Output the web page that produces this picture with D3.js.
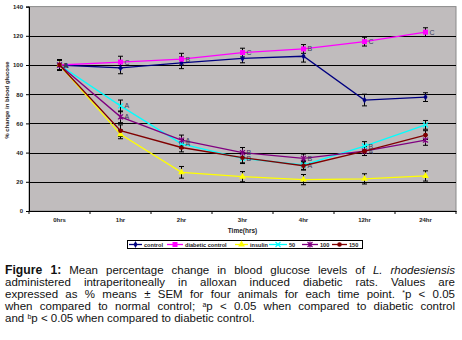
<!DOCTYPE html>
<html>
<head>
<meta charset="utf-8">
<script src="https://cdn.jsdelivr.net/npm/d3@7"></script>
<style>
  body { margin: 0; background: white; }
  #wrap { position: relative; width: 462px; height: 340px; }
  #caption {
    position: absolute; left: 5px; top: 264px; width: 450px;
    font-family: "Liberation Sans", Arial, sans-serif; font-size: 11.5px;
    line-height: 12px; color: #111;
  }
  #caption div { text-align: justify; text-align-last: justify; white-space: nowrap; }
  #caption div.last { text-align-last: left; }
  #caption b { font-size: 12.2px; }
  #caption sup { font-size: 7px; vertical-align: 3px; line-height: 0; }
</style>
</head>
<body>
<div id="wrap">
  <div id="chart"></div>
  <div id="caption">
    <div><b>Figure 1:</b> Mean percentage change in blood glucose levels of <i>L. rhodesiensis</i></div>
    <div>administered intraperitoneally in alloxan induced diabetic rats. Values are</div>
    <div>expressed as % means ± SEM for four animals for each time point. <sup>*</sup>p &lt; 0.05</div>
    <div>when compared to normal control; <sup>a</sup>p &lt; 0.05 when compared to diabetic control</div>
    <div class="last">and <sup>b</sup>p &lt; 0.05 when compared to diabetic control.</div>
  </div>
</div>
<script>
//time points
const times = ["0hrs", "1hr", "2hr", "3hr", "4hr", "12hr", "24hr"];

//series names
const seriesNames = ["control", "diabetic control", "insulin", "50", "100", "150"];

//% change in blood glucose
const control = [100, 98, 101.5, 104.5, 106, 76, 78];
const diabeticControl = [100, 102, 104, 108.5, 111, 116, 122.5];
const insulin = [100, 52.5, 26.5, 23.5, 21.5, 22, 24];
const dose50 = [100, 72, 46, 36, 31.5, 44.5, 59];
const dose100 = [100, 64.5, 48.5, 40, 36, 41, 48.5];
const dose150 = [100, 55, 43.5, 36.5, 31, 41, 52];

//SEM for each point
const controlSem = [3.5, 4, 4, 3, 4, 4, 3];
const diabeticSem = [3.5, 4, 4, 3, 3, 3, 3];
const insulinSem = [3.5, 3, 4, 3.5, 3.5, 3.5, 3.5];
const dose50Sem = [3.5, 4, 3, 3.5, 3, 3, 3];
const dose100Sem = [3.5, 4, 3.5, 3.5, 3, 3, 3.5];
const dose150Sem = [3.5, 4, 3, 3.5, 3, 3, 3];

//letter annotations next to points ("" = none)
const controlLabels = ["", "", "", "", "A", "", ""];
const diabeticLabels = ["A", "C", "B", "C", "B", "C", "C"];
const insulinLabels = ["", "A", "", "", "", "", ""];
const dose50Labels = ["", "B", "A", "A", "B", "A", "B"];
const dose100Labels = ["", "A", "A", "A", "B", "B", "A"];
const dose150Labels = ["", "", "", "", "", "", "A"];

const yTicks = [0, 20, 40, 60, 80, 100, 120, 140];

const colors = ["#000080", "#ff00ff", "#ffff00", "#00ffff", "#800080", "#800000"];
const markers = ["diamond", "square", "triangle", "cross", "star", "circle"];

const series = seriesNames.map(function(name, i) {
    return {
        name: name,
        values: [control, diabeticControl, insulin, dose50, dose100, dose150][i],
        sem: [controlSem, diabeticSem, insulinSem, dose50Sem, dose100Sem, dose150Sem][i],
        labels: [controlLabels, diabeticLabels, insulinLabels, dose50Labels, dose100Labels, dose150Labels][i],
        color: colors[i],
        marker: markers[i]
    };
});

const width = 462;
const height = 262;
const margin = { top: 6.6, right: 6, bottom: 51, left: 29 };
const font = "'Liberation Sans', Arial, sans-serif";

const svg = d3.select("#chart")
    .append("svg")
    .attr("width", width)
    .attr("height", height)
    .style("display", "block");

const xScale = d3.scaleBand()
    .domain(times)
    .range([margin.left, width - margin.right]);

const yScale = d3.scaleLinear()
    .domain([0, 140])
    .range([height - margin.bottom, margin.top]);

const cx = function(i) { return xScale(times[i]) + xScale.bandwidth() / 2; };

//plot background
svg.append("rect")
    .attr("x", margin.left)
    .attr("y", margin.top)
    .attr("width", width - margin.right - margin.left)
    .attr("height", yScale(0) - margin.top)
    .attr("fill", "#c0bcbd")
    .attr("stroke", "#8a8a8a")
    .attr("stroke-width", 1);

//gridlines
svg.selectAll(".grid")
    .data(yTicks.filter(function(d) { return d > 0 && d < 140; }))
    .enter()
    .append("line")
    .attr("x1", margin.left)
    .attr("x2", width - margin.right)
    .attr("y1", function(d) { return Math.round(yScale(d)) + 0.5; })
    .attr("y2", function(d) { return Math.round(yScale(d)) + 0.5; })
    .attr("stroke", "black")
    .attr("stroke-width", 1);

//y axis
const yAxis = svg.append("g")
    .attr("transform", "translate(" + margin.left + ",0)")
    .call(d3.axisLeft(yScale).tickValues(yTicks).tickSize(3).tickPadding(3));
yAxis.selectAll("text")
    .style("font-family", font)
    .style("font-size", "6px")
    .style("font-weight", "bold")
    .attr("fill", "#222");

//x axis, labels only
const xAxis = svg.append("g")
    .attr("transform", "translate(0," + yScale(0) + ")")
    .call(d3.axisBottom(xScale).tickSize(0).tickPadding(7));
xAxis.selectAll("text")
    .style("font-family", font)
    .style("font-size", "6px")
    .style("font-weight", "bold")
    .attr("fill", "#222");

//x ticks at category boundaries
svg.selectAll(".xtick")
    .data(times.concat(["end"]))
    .enter()
    .append("line")
    .attr("x1", function(d, i) { return margin.left + i * xScale.bandwidth(); })
    .attr("x2", function(d, i) { return margin.left + i * xScale.bandwidth(); })
    .attr("y1", yScale(0))
    .attr("y2", yScale(0) + 3)
    .attr("stroke", "black");

//axis titles
svg.append("text")
    .attr("x", xScale("3hr") + xScale.bandwidth() / 2)
    .attr("y", yScale(0) + 22)
    .attr("text-anchor", "middle")
    .style("font-family", font)
    .style("font-size", "6.5px")
    .style("font-weight", "bold")
    .attr("fill", "#222")
    .text("Time(hrs)");

svg.append("text")
    .attr("transform", "translate(9," + yScale(76) + ") rotate(-90)")
    .attr("text-anchor", "middle")
    .style("font-family", font)
    .style("font-size", "6px")
    .style("font-weight", "bold")
    .attr("fill", "#222")
    .text("% change in blood glucose");

//draw a marker shape
function drawMarker(g, type, color, x, y) {
    if (type === "diamond") {
        g.append("path").attr("d", d3.symbol(d3.symbolDiamond, 14)())
            .attr("transform", "translate(" + x + "," + y + ")").attr("fill", color);
    } else if (type === "square") {
        g.append("rect").attr("x", x - 2.5).attr("y", y - 2.5).attr("width", 5).attr("height", 5).attr("fill", color);
    } else if (type === "triangle") {
        g.append("path").attr("d", d3.symbol(d3.symbolTriangle, 20)())
            .attr("transform", "translate(" + x + "," + y + ")").attr("fill", color);
    } else if (type === "cross") {
        g.append("path").attr("d", "M-2.5,-2.5L2.5,2.5M-2.5,2.5L2.5,-2.5")
            .attr("transform", "translate(" + x + "," + y + ")").attr("stroke", color).attr("stroke-width", 1.2);
    } else if (type === "star") {
        g.append("path").attr("d", "M-2.5,-2.5L2.5,2.5M-2.5,2.5L2.5,-2.5M0,-3L0,3")
            .attr("transform", "translate(" + x + "," + y + ")").attr("stroke", color).attr("stroke-width", 1.2);
    } else {
        g.append("circle").attr("cx", x).attr("cy", y).attr("r", 2.3).attr("fill", color);
    }
}

const line = d3.line()
    .x(function(d, i) { return cx(i); })
    .y(function(d) { return yScale(d); });

//error bars
series.forEach(function(s) {
    const eb = svg.append("g");
    s.values.forEach(function(v, i) {
        const x = cx(i);
        const top = yScale(v + s.sem[i]);
        const bot = yScale(v - s.sem[i]);
        eb.append("line").attr("x1", x).attr("x2", x).attr("y1", top).attr("y2", bot).attr("stroke", "black");
        eb.append("line").attr("x1", x - 2.5).attr("x2", x + 2.5).attr("y1", top).attr("y2", top).attr("stroke", "black");
        eb.append("line").attr("x1", x - 2.5).attr("x2", x + 2.5).attr("y1", bot).attr("y2", bot).attr("stroke", "black");
    });
});

//lines, markers and letters
series.forEach(function(s) {
    svg.append("path")
        .datum(s.values)
        .attr("d", line)
        .attr("fill", "none")
        .attr("stroke", s.color)
        .attr("stroke-width", 1.3);

    const g = svg.append("g");
    s.values.forEach(function(v, i) {
        drawMarker(g, s.marker, s.color, cx(i), yScale(v));
    });

    svg.selectAll(null)
        .data(s.labels)
        .enter()
        .append("text")
        .filter(function(d) { return d !== ""; })
        .attr("x", function(d, i) { return cx(i) + 4; })
        .attr("y", function(d, i) { return yScale(s.values[i]) + 2.5; })
        .style("font-family", font)
        .style("font-size", "7px")
        .attr("fill", "#3a3a5a")
        .text(function(d) { return d; });
});

//legend
const legend = svg.append("g");
legend.append("rect")
    .attr("x", 127.5)
    .attr("y", 240.5)
    .attr("width", 235)
    .attr("height", 8)
    .attr("fill", "white")
    .attr("stroke", "black");

const legendX = [129, 167, 235, 269, 302, 332];
const legendLine = [13, 16, 13, 18, 16, 15];
series.forEach(function(s, i) {
    const lx = legendX[i];
    legend.append("line")
        .attr("x1", lx).attr("x2", lx + legendLine[i])
        .attr("y1", 244.5).attr("y2", 244.5)
        .attr("stroke", s.color).attr("stroke-width", 1.3);
    drawMarker(legend, s.marker, s.color, lx + legendLine[i] / 2, 244.5);
    legend.append("text")
        .attr("x", lx + legendLine[i] + 2)
        .attr("y", 246.7)
        .style("font-family", font)
        .style("font-size", "5.6px")
        .style("font-weight", "bold")
        .attr("fill", "#222")
        .text(s.name);
});
</script>
</body>
</html>
